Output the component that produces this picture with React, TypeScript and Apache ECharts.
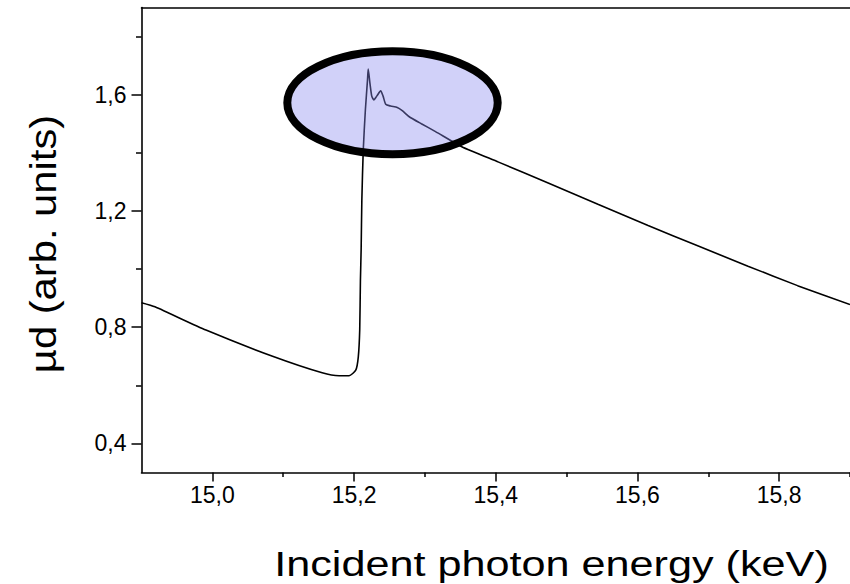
import React, { useEffect, useRef } from "react";
import * as echarts from "echarts";

// Incident photon energy (keV)
const energy = [
  14.9, 14.919, 14.991, 15.085, 15.155, 15.179, 15.193, 15.2024, 15.206, 15.208,
  15.209, 15.21, 15.211, 15.213, 15.216, 15.219, 15.22, 15.2224, 15.225, 15.228,
  15.232, 15.2376, 15.241, 15.2447, 15.2516, 15.261, 15.268, 15.2774, 15.295, 15.315,
  15.352, 15.404, 15.474, 15.545, 15.615, 15.685, 15.756, 15.826, 15.9,
];
// µd (arb. units)
const absorption = [
  0.884, 0.87, 0.79, 0.7, 0.643, 0.633, 0.633, 0.652, 0.698, 0.79,
  0.962, 1.066, 1.238, 1.41, 1.548, 1.651, 1.688, 1.64, 1.595, 1.582,
  1.595, 1.613, 1.595, 1.567, 1.561, 1.556, 1.545, 1.525, 1.5, 1.473,
  1.421, 1.368, 1.296, 1.222, 1.15, 1.08, 1.01, 0.943, 0.878,
];

const xMajorTicks = [15.0, 15.2, 15.4, 15.6, 15.8];
const xMinorTicks = [15.1, 15.3, 15.5, 15.7, 15.9];
const yMajorTicks = [0.4, 0.8, 1.2, 1.6];
const yMinorTicks = [0.6, 1.0, 1.4, 1.8];

const xTitle = "Incident photon energy (keV)";
const yTitle = "µd (arb. units)";

const FONT = "Liberation Sans";
const fmt = (v: number) => v.toFixed(1).replace(".", ",");

export default function App() {
  const ref = useRef<HTMLDivElement>(null);
  useEffect(() => {
    if (!ref.current) return;
    const chart = echarts.init(ref.current, null, { renderer: "svg" });
    const xRange = { min: 14.9, max: 15.9 };
    const yRange = { min: 0.3, max: 1.9 };
    const axisLine = { show: true, lineStyle: { color: "#000", width: 1.6 } };
    const labelStyle = { fontFamily: FONT, fontSize: 23, color: "#000" };
    chart.setOption({
      animation: false,
      backgroundColor: "#fff",
      grid: { left: 141.5, top: 7.5, width: 711, height: 465, containLabel: false },
      xAxis: [
        {
          type: "value",
          position: "bottom",
          ...xRange,
          axisLine,
          splitLine: { show: false },
          axisTick: { show: true, customValues: xMajorTicks, length: 9, lineStyle: { color: "#000", width: 1.5 } },
          axisLabel: { show: true, customValues: xMajorTicks, formatter: fmt, margin: 11, ...labelStyle },
        },
        {
          type: "value",
          position: "bottom",
          ...xRange,
          axisLine: { show: false },
          splitLine: { show: false },
          axisTick: { show: true, customValues: xMinorTicks, length: 4.5, lineStyle: { color: "#000", width: 1.5 } },
          axisLabel: { show: false },
        },
        {
          type: "value",
          position: "top",
          ...xRange,
          axisLine,
          splitLine: { show: false },
          axisTick: { show: false },
          axisLabel: { show: false },
        },
      ],
      yAxis: [
        {
          type: "value",
          position: "left",
          ...yRange,
          axisLine,
          splitLine: { show: false },
          axisTick: { show: true, customValues: yMajorTicks, length: 10, lineStyle: { color: "#000", width: 1.5 } },
          axisLabel: { show: true, customValues: yMajorTicks, formatter: fmt, margin: 15, ...labelStyle },
        },
        {
          type: "value",
          position: "left",
          ...yRange,
          axisLine: { show: false },
          splitLine: { show: false },
          axisTick: { show: true, customValues: yMinorTicks, length: 5.5, lineStyle: { color: "#000", width: 1.5 } },
          axisLabel: { show: false },
        },
      ],
      series: [
        {
          type: "line",
          xAxisIndex: 0,
          yAxisIndex: 0,
          data: energy.map((e, i) => [e, absorption[i]]),
          showSymbol: false,
          symbol: "none",
          smooth: 0.2,
          lineStyle: { color: "#000", width: 1.6 },
          clip: true,
        },
      ],
      graphic: [
        {
          type: "ellipse",
          z: 100,
          shape: { cx: 392.5, cy: 102.8, rx: 105.2, ry: 51.5 },
          style: { fill: "rgba(140,140,240,0.4)", stroke: "#000", lineWidth: 8 },
        },
        {
          type: "text",
          z: 100,
          x: 551.5,
          y: 563.5,
          scaleX: 1.2,
          style: {
            text: xTitle,
            fontFamily: FONT,
            fontSize: 36,
            fill: "#000",
            align: "center",
            verticalAlign: "middle",
          },
        },
        {
          type: "text",
          z: 100,
          x: 44,
          y: 244,
          rotation: Math.PI / 2,
          scaleX: 1.16,
          style: {
            text: yTitle,
            fontFamily: FONT,
            fontSize: 36,
            fill: "#000",
            align: "center",
            verticalAlign: "middle",
          },
        },
      ],
    });
    return () => chart.dispose();
  }, []);
  return (
    <div
      ref={ref}
      style={{ position: "fixed", left: 0, top: 0, width: 850, height: 584, background: "#fff" }}
    />
  );
}
